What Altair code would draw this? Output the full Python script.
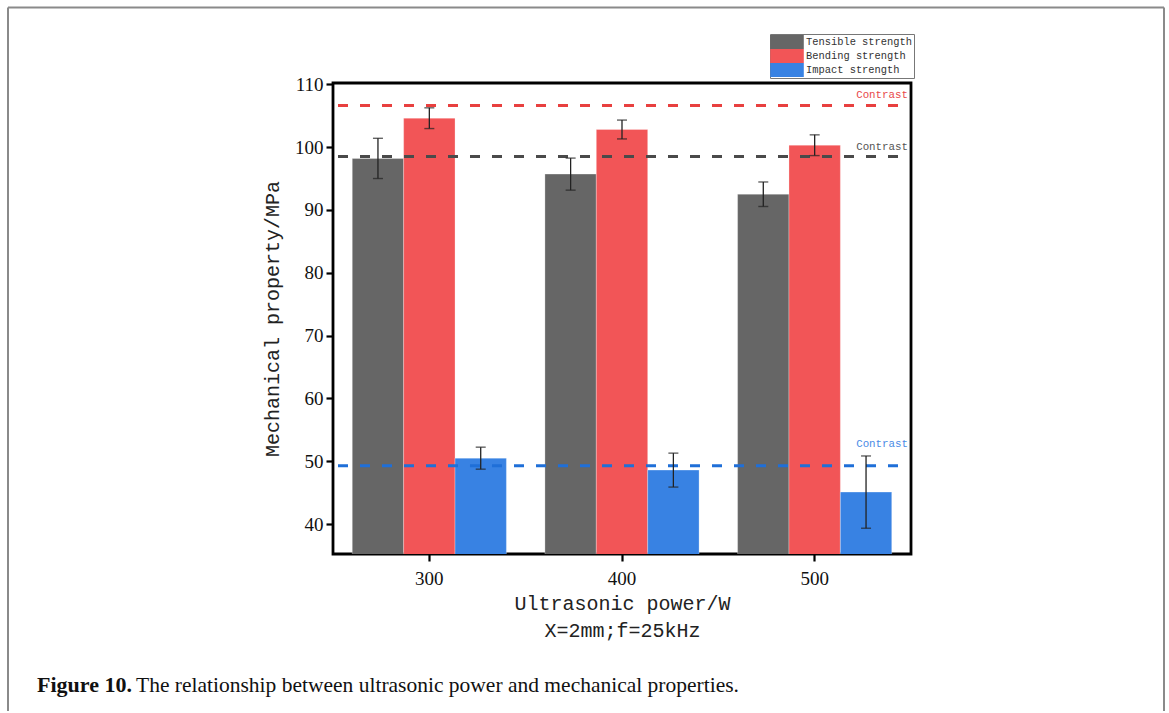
import altair as alt
import pandas as pd

# ---------------- data ----------------
powers = ["300", "400", "500"]
series = ["Tensible strength", "Bending strength", "Impact strength"]
tensile = [98.2, 95.7, 92.5]
tensile_err = [3.2, 2.55, 1.95]
bending = [104.6, 102.8, 100.3]
bending_err = [1.65, 1.5, 1.65]
impact = [50.5, 48.6, 45.1]
impact_err = [1.75, 2.7, 5.75]
contrast = [98.5, 106.6, 49.3]          # reference ("Contrast") values per series
contrast_label = "Contrast"
y_ticks = [40, 45, 50, 55, 60, 65, 70, 75, 80, 85, 90, 95, 100, 105, 110]
x_title = ["Ultrasonic power/W", "X=2mm;f=25kHz"]
y_title = "Mechanical property/MPa"
caption_bold = "Figure 10."
caption_text = "The relationship between ultrasonic power and mechanical properties."

bar_colors = ["#666666", "#F25557", "#3882E3"]
line_colors = ["#4A4A4A", "#E8403F", "#1F6FD8"]
text_colors = ["#555555", "#E8484A", "#4A8BE6"]
label_dy = [-10, -11, -22]

rows = []
for vals, errs, s in [(tensile, tensile_err, series[0]),
                      (bending, bending_err, series[1]),
                      (impact, impact_err, series[2])]:
    for p, v, e in zip(powers, vals, errs):
        rows.append({"power": p, "series": s, "value": v, "lo": v - e, "hi": v + e})
df = pd.DataFrame(rows)
cdf = pd.DataFrame({"series": series, "value": contrast})
one = pd.DataFrame({"a": [0]})

MONO = "Liberation Mono"
SERIF = "Liberation Serif"

yscale = alt.Scale(domain=[35.25, 110.2], nice=False, zero=False)
xscale = alt.Scale(paddingInner=0.2, paddingOuter=0.1)
xenc = alt.X("power:N", sort=powers, scale=xscale,
             axis=alt.Axis(title=x_title, labelAngle=0))
xoff = alt.XOffset("series:N", sort=series, scale=alt.Scale(domain=series))

bars = alt.Chart(df).mark_bar(clip=True, stroke="white", strokeOpacity=0.35,
                              strokeWidth=0.8).encode(
    x=xenc,
    xOffset=xoff,
    y=alt.Y("value:Q", scale=yscale,
            axis=alt.Axis(title=y_title, values=y_ticks, grid=False,
                          labelExpr="datum.value % 10 === 0 ? datum.label : ''",
                          tickSize={"condition": {"test": "datum.value % 10 === 0", "value": 7},
                                    "value": 4})),
    color=alt.Color("series:N", sort=series,
                    scale=alt.Scale(domain=series, range=bar_colors),
                    legend=alt.Legend(title=None, orient="none", legendX=437, legendY=-49,
                                      symbolType="M-2.4,-1H2.4V1H-2.4Z", symbolSize=196,
                                      symbolStrokeWidth=0, rowPadding=0, padding=1,
                                      strokeColor="#777777", labelFont=MONO, labelFontSize=10.4,
                                      labelColor="#333333", labelOffset=12, symbolOffset=9,
                                      labelLimit=200)),
)

err = alt.Chart(df).mark_rule(color="#222222", strokeWidth=1.3).encode(
    x=xenc, xOffset=xoff,
    y=alt.Y("lo:Q", scale=yscale), y2="hi:Q")
cap_lo = alt.Chart(df).mark_tick(color="#222222", size=10, thickness=1.4).encode(
    x=xenc, xOffset=xoff, y=alt.Y("lo:Q", scale=yscale))
cap_hi = alt.Chart(df).mark_tick(color="#222222", size=10, thickness=1.4).encode(
    x=xenc, xOffset=xoff, y=alt.Y("hi:Q", scale=yscale))

clines = alt.Chart(cdf).mark_rule(strokeWidth=3, strokeDash=[10, 12]).encode(
    y=alt.Y("value:Q", scale=yscale),
    x=alt.value(5), x2=alt.value(573),
    stroke=alt.Stroke("series:N", sort=series,
                      scale=alt.Scale(domain=series, range=line_colors), legend=None),
)

ctexts = []
for s, tc, dy in zip(series, text_colors, label_dy):
    ctexts.append(
        alt.Chart(cdf).transform_filter(alt.datum.series == s)
        .mark_text(font=MONO, fontSize=10.8, color=tc, align="right", dy=dy)
        .encode(y=alt.Y("value:Q", scale=yscale), x=alt.value(575),
                text=alt.value(contrast_label))
    )

cap1 = alt.Chart(one).mark_text(font=SERIF, fontSize=22, fontWeight="bold", align="left",
                                baseline="alphabetic", color="#111111").encode(
    x=alt.value(-296), y=alt.value(609), text=alt.value(caption_bold))
cap2 = alt.Chart(one).mark_text(font=SERIF, fontSize=21.5, align="left",
                                baseline="alphabetic", color="#111111").encode(
    x=alt.value(-197), y=alt.value(609), text=alt.value(caption_text))

frame_col = "#8a8a8a"
f_left = alt.Chart(one).mark_rule(color=frame_col, strokeWidth=2).encode(
    x=alt.value(-325), y=alt.value(-75.5), y2=alt.value(628))
f_top = alt.Chart(one).mark_rule(color=frame_col, strokeWidth=2).encode(
    x=alt.value(-325), x2=alt.value(831), y=alt.value(-75.5))
f_right = alt.Chart(one).mark_rule(color=frame_col, strokeWidth=2).encode(
    x=alt.value(831), y=alt.value(-75.5), y2=alt.value(628))

chart = alt.layer(
    bars, clines, err, cap_lo, cap_hi, *ctexts, cap1, cap2, f_left, f_top, f_right
).resolve_scale(color="independent").properties(
    width=578, height=471,
    padding={"left": 7, "top": 6, "right": 0, "bottom": 0},
).configure_view(
    stroke="black", strokeWidth=2.8
).configure_axis(
    labelFont=SERIF, labelFontSize=19, labelColor="#111111",
    titleFont=MONO, titleFontSize=20, titleFontWeight="normal", titleColor="#222222",
    tickColor="black", tickWidth=2.2, tickSize=7, domain=False,
).configure_axisX(
    labelPadding=8, titlePadding=5, titleLineHeight=27,
).configure_axisY(
    labelPadding=3, titlePadding=12,
)

chart.save("out.html", embed_options={"renderer": "svg", "actions": False})
